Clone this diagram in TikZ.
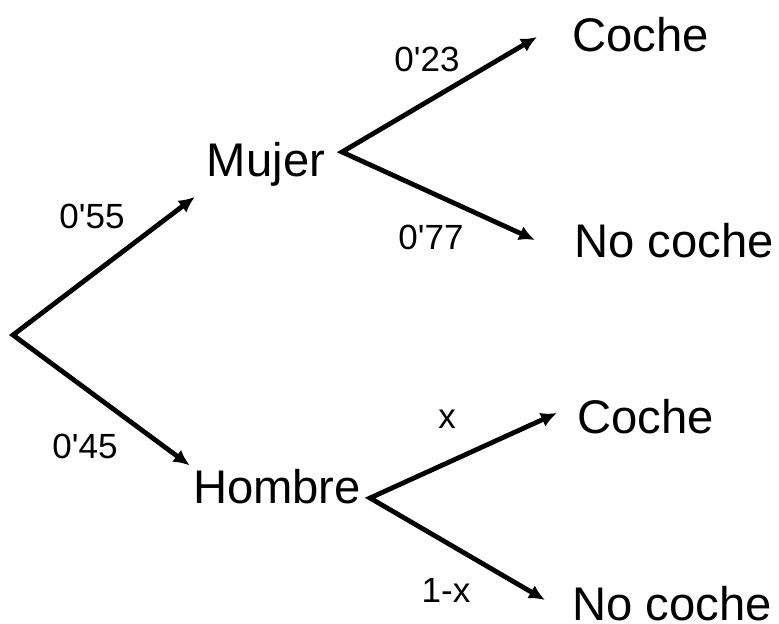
\documentclass[tikz,border=0pt]{standalone}
\usepackage{fontspec}
\setmainfont{Liberation Sans}
\usetikzlibrary{arrows.meta}

\begin{document}
\begin{tikzpicture}[x=0.5pt, y=-0.5pt,
	rama/.style = {font=\fontsize{23.6}{28}\selectfont, inner sep=1.5pt, anchor=base},
	hoja/.style = {font=\fontsize{23.6}{28}\selectfont, inner sep=1.5pt, anchor=base west},
	prob/.style = {font=\fontsize{17.5}{21}\selectfont, inner sep=1pt, anchor=base},
	flecha/.style = {line width=2.4pt, {Latex[length=8pt,width=7.5pt]}-{Latex[length=8pt,width=7.5pt]}}]
		\useasboundingbox (0,0) rectangle (779,624);
		% primer nivel
		\coordinate (raiz) at (13,335);
		\node[rama] (mujer) at (266,177) {Mujer};
		\node[rama] (hombre) at (277,503) {Hombre};
		\node[prob] (p1) at (92,229) {0\textquotesingle55};
		\node[prob] (p2) at (85,458) {0\textquotesingle45};
		
		% segundo nivel
		\coordinate (mj) at (342,152);
		\coordinate (hb) at (370,498);
		\coordinate (t1) at (537,37);
		\coordinate (t2) at (535,240);
		\coordinate (t3) at (557,413);
		\coordinate (t4) at (545,600);
		\node[hoja] (coche1) at (569,52) {Coche};
		\node[hoja] (nocoche1) at (571,258) {No coche};
		\node[hoja] (coche2) at (574,433) {Coche};
		\node[hoja] (nocoche2) at (569,620) {No coche};
		\node[prob] (p3) at (427,72) {0\textquotesingle23};
		\node[prob] (p4) at (431,250) {0\textquotesingle77};
		\node[prob] (p5) at (447,428) {x};
		\node[prob] (p6) at (446,602) {1-x};
		
		\draw[flecha, shorten <=5.5pt] (mujer.south west) -- (raiz) -- (hombre.north west);
		\draw[flecha] (t1) -- (mj) -- (t2);
		\draw[flecha] (t3) -- (hb) -- (t4);
	\end{tikzpicture}
\end{document}
